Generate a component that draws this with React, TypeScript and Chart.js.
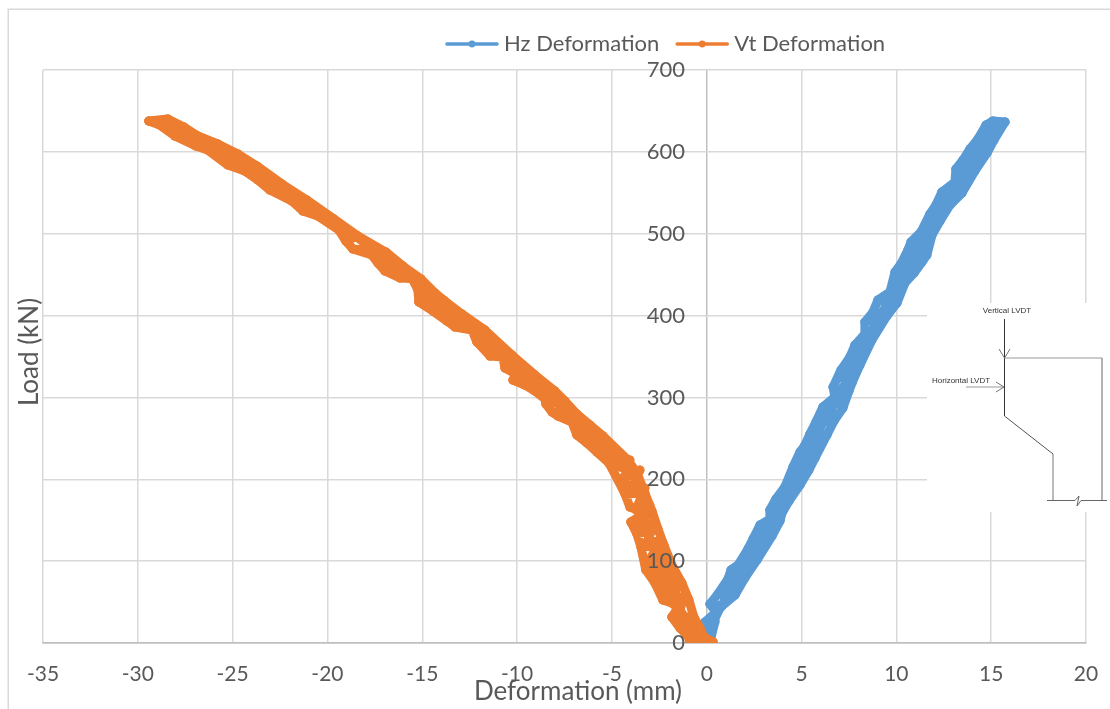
import React, { useEffect, useRef } from "react";
import { Chart, registerables } from "chart.js";

Chart.register(...registerables);

const FONT = "Lato";
const TEXT = "#595959";
const GRID = "#d9d9d9";
const AXIS = "#bfbfbf";
const BLUE = "#5b9bd5";
const ORANGE = "#ed7d31";

const seriesNames = ["Hz Deformation", "Vt Deformation"];
const xAxisTitle = "Deformation (mm)";
const yAxisTitle = "Load (kN)";
const insetVertical = "Vertical LVDT";
const insetHorizontal = "Horizontal LVDT";

// loading cycles of the horizontal LVDT
const hzDeformation = [0.22,-0.09,0.43,0.27,0.49,0.17,0.8,1.49,0.59,1.12,2.01,1.28,1.65,2.65,2.17,2.44,3.44,2.81,3.86,3.33,3.97,3.33,3.65,4.34,4.12,4.92,4.55,5.39,4.92,5.71,5.18,6.34,5.44,5.76,6.71,6.13,6.76,7.18,6.66,7.5,7.08,7.66,7.55,8.08,7.82,8.71,8.34,8.34,9.5,8.77,9.03,10.03,9.66,10.45,9.93,10.93,10.24,11.35,10.61,11.61,10.77,11.88,11.3,11.77,12.3,12.09,12.83,12.4,13.46,13.09,14.14,13.14,14.78,13.51,13.88,15.15,14.3,14.73,15.73,15.09];
const hzLoad = [6.1,25.7,25.7,13.4,37.9,47.6,45.2,58.6,59.9,78.2,79.4,89.2,95.3,101.4,114.8,127,130.7,144.1,149,151.5,158.8,162.5,175.9,173.5,190.6,193,215,211.3,233.3,226,241.9,254.1,255.3,270,271.2,288.3,300.5,287.1,312.7,307.8,333.5,317.6,349.4,339.6,364,370.1,377.5,392.1,399.5,404.3,419,415.3,428.8,439.8,453.2,452,463,465.4,480.1,474,489.9,498.4,502.1,524.1,515.5,535.1,535.1,550.9,549.7,563.2,576.6,579,598.6,590,603.5,614.5,615.7,632.8,636.5,637.7];
const hzLeftX = [15.09,14.73,14.3,13.88,13.51,13.14,13.09,12.4,12.09,11.77,11.3,10.77,10.61,10.24,9.93,9.66,9.03,8.77,8.34,8.34,7.82,7.55,7.08,6.66,6.76,6.13,5.76,5.44,5.18,4.92,4.55,4.12,3.65,3.33,3.33,2.81,2.44,2.17,1.65,1.28,1.12,0.59,0.17,0.49,-0.09,0.22];
const hzLeftY = [637.7,632.8,615.7,603.5,590,579,563.2,550.9,535.1,524.1,502.1,489.9,480.1,463,453.2,428.8,419,404.3,392.1,377.5,364,349.4,333.5,312.7,300.5,288.3,270,255.3,241.9,233.3,215,190.6,175.9,162.5,151.5,144.1,127,114.8,95.3,89.2,78.2,59.9,47.6,37.9,25.7,6.1];
const hzRightX = [0.22,0.43,0.49,0.8,1.49,2.01,2.65,3.44,3.86,3.97,4.34,4.92,5.39,5.71,6.34,6.71,7.18,7.5,7.66,8.08,8.71,9.5,10.03,10.45,10.93,11.35,11.61,11.88,12.3,12.83,13.46,14.14,14.78,15.15,15.73];
const hzRightY = [6.1,25.7,37.9,45.2,58.6,79.4,101.4,130.7,149,158.8,173.5,193,211.3,226,254.1,271.2,287.1,307.8,317.6,339.6,370.1,399.5,415.3,439.8,452,465.4,474,498.4,515.5,535.1,549.7,576.6,598.6,614.5,636.5];
const hzMiddleX = [15.36,14.83,14.3,13.78,13.25,12.72,12.19,11.77,11.3,10.82,10.35,9.82,9.4,8.87,8.34,7.87,7.45,7.03,6.6,6.13,5.71,5.18,4.76,4.39,3.97,3.76,3.33,2.91,2.38,2.01,1.59,1.12,0.7,0.27];
const hzMiddleY = [636.5,620.6,602.3,583.9,561.9,543.6,529,507,486.2,470.3,449.6,428.8,409.2,388.5,364,345.7,323.7,305.4,287.1,270,248,223.6,205.2,186.9,168.6,156.4,140.5,125.8,107.5,91.6,77,58.6,42.8,22];

// loading cycles of the vertical LVDT
const vtDeformation = [-29.42,-28.42,-28.84,-27.57,-28.05,-26.83,-26.94,-25.78,-26.31,-24.72,-25.25,-23.72,-24.36,-22.4,-23.67,-23.04,-21.09,-21.88,-21.3,-19.66,-20.51,-19.4,-18.4,-19.03,-18.66,-16.92,-17.66,-17.34,-16.02,-16.97,-16.18,-15.07,-15.55,-15.23,-14.33,-15.18,-14.44,-13.81,-12.91,-13.7,-13.28,-12.38,-11.7,-12.12,-11.17,-10.27,-11.43,-10.75,-10.64,-9.06,-10.06,-10.22,-9.59,-8.01,-9.06,-8.53,-7.48,-8.48,-8.16,-6.85,-7.85,-7.11,-6.16,-6.85,-5.47,-6.32,-5.79,-4.16,-5.16,-3.68,-4.68,-3.26,-4.31,-4.05,-2.89,-3.26,-4,-2.57,-3.68,-3.47,-2.26,-3.21,-1.84,-2.73,-1.31,-2.31,-0.94,-1.84,-1.52,-1.84,-0.68,-1.41,-0.36,-0.99,-0.15,-0.89,0.33];
const vtLoad = [637.7,640.1,632.8,630.3,619.4,619.4,607.1,609.6,602.2,597.4,583.9,582.7,576.6,560.7,565.6,553.4,541.2,540,527.7,518,521.6,504.5,497.2,491.1,481.3,477.6,474,464.2,460.5,454.4,445.9,444.7,445.9,431.2,427.6,416.6,405.6,417.8,401.9,393.4,386,382.4,382.4,367.7,365.3,351.8,350.6,349.4,335.9,327.4,328.6,321.3,315.2,307.8,307.8,298.1,295.6,292,282.2,279.7,277.3,270,266.3,254.1,252.9,244.3,233.3,223.6,219.9,207.7,199.1,183.2,182,166.1,161.3,158.8,147.8,139.3,133.2,117.3,119.7,89.2,95.3,73.3,73.3,52.5,52.5,48.9,42.8,31.8,31.8,18.3,18.3,8.6,7.3,1.2,1.2];
const vtUpperX = [0.33,-0.15,-0.36,-0.68,-0.94,-1.31,-1.84,-2.26,-2.57,-2.89,-3.26,-3.68,-4.16,-5.47,-6.16,-6.85,-7.48,-8.01,-9.06,-10.27,-11.7,-12.91,-13.81,-14.33,-15.07,-16.02,-16.92,-18.4,-19.66,-21.09,-22.4,-23.72,-24.72,-25.78,-26.83,-27.57,-28.42,-29.42];
const vtUpperY = [1.2,7.3,18.3,31.8,52.5,73.3,95.3,119.7,139.3,161.3,183.2,207.7,223.6,252.9,266.3,279.7,295.6,307.8,327.4,351.8,382.4,401.9,417.8,427.6,444.7,460.5,477.6,497.2,518,541.2,560.7,582.7,597.4,609.6,619.4,630.3,640.1,637.7];
const vtLowerX = [-29.42,-28.84,-28.05,-26.94,-26.31,-25.25,-24.36,-23.67,-23.04,-21.88,-21.3,-20.51,-19.4,-19.03,-18.66,-17.66,-17.34,-16.97,-16.18,-15.55,-15.23,-15.18,-14.44,-13.7,-13.28,-12.38,-12.12,-11.43,-10.75,-10.64,-10.06,-10.22,-9.59,-9.06,-8.53,-8.48,-8.16,-7.85,-7.11,-6.85,-6.32,-5.79,-5.16,-4.68,-4.31,-4.05,-3.26,-4,-3.68,-3.47,-3.21,-2.73,-2.31,-1.84,-1.52,-1.84,-1.41,-0.99,-0.89,0.33];
const vtLowerY = [637.7,632.8,619.4,607.1,602.2,583.9,576.6,565.6,553.4,540,527.7,521.6,504.5,491.1,481.3,474,464.2,454.4,445.9,445.9,431.2,416.6,405.6,393.4,386,382.4,367.7,350.6,349.4,335.9,328.6,321.3,315.2,307.8,298.1,292,282.2,277.3,270,254.1,244.3,233.3,219.9,199.1,182,166.1,158.8,147.8,133.2,117.3,89.2,73.3,52.5,48.9,42.8,31.8,18.3,8.6,1.2,1.2];
const vtMiddleX = [-0.46,-0.89,-1.41,-1.2,-1.84,-1.52,-2.26,-1.84,-2.73,-2.15,-3,-2.47,-3.21,-2.73,-3.42,-3,-3.73,-3.26,-4.05,-3.52,-4.31,-4.05,-4.68,-5.11,-5.9,-6.69,-7.48,-8.27,-9.32,-10.38,-11.17,-12.07,-13.02,-13.81,-14.49,-15.13,-15.92,-16.97,-18.03,-19.08,-20.14,-21.19,-22.25,-23.3,-24.09,-25.15,-26.2,-27.26,-28.05,-29.1];
const vtMiddleY = [6.1,22,40.3,57.4,52.5,70.9,64.7,86.7,83.1,106.3,101.4,125.8,119.7,147.8,140.5,168.6,162.5,189.3,183.2,211.3,205.2,223.6,217.4,233.3,248,266.3,284.6,303,321.3,339.6,357.9,376.3,392.1,404.3,419,437.3,453.2,470.3,488.6,507,522.8,537.5,553.4,568,581.5,596.1,608.4,620.6,631.6,637.7];

const toPoints = (xs: number[], ys: number[]) => xs.map((x, i) => ({ x, y: ys[i] }));

const decorations = {
  id: "decorations",
  beforeDraw(chart: any) {
    const { ctx, width, height, legend } = chart;
    const shift = 445 - legend.legendHitBoxes[0].left;
    legend.left += shift;
    legend.right += shift;
    legend.top = 17;
    legend.bottom = 66;
    legend.legendHitBoxes.forEach((b: any) => {
      b.left += shift;
    });
    ctx.save();
    ctx.fillStyle = "#fff";
    ctx.fillRect(0, 0, width, height);
    ctx.strokeStyle = GRID;
    ctx.lineWidth = 1.5;
    ctx.strokeRect(8.25, 9.25, width + 20, height + 20);
    ctx.restore();
  },
  afterDraw(chart: any) {
    const { ctx } = chart;
    ctx.save();
    // legend keys: a line with a marker
    chart.legend.legendHitBoxes.forEach((b: any, i: number) => {
      const c = i === 0 ? BLUE : ORANGE;
      ctx.strokeStyle = c;
      ctx.fillStyle = c;
      ctx.lineWidth = 3.6;
      ctx.lineCap = "round";
      ctx.beginPath();
      ctx.moveTo(b.left + 2, 44);
      ctx.lineTo(b.left + 52, 44);
      ctx.stroke();
      ctx.beginPath();
      ctx.arc(b.left + 27, 44, 3.4, 0, Math.PI * 2);
      ctx.fill();
    });
    // axis titles
    ctx.fillStyle = TEXT;
    ctx.font = `26px ${FONT}`;
    ctx.textAlign = "center";
    ctx.textBaseline = "middle";
    ctx.fillText(xAxisTitle, 578, 692);
    ctx.translate(30, 352);
    ctx.rotate(-Math.PI / 2);
    ctx.fillText(yAxisTitle, 0, 0);
    ctx.restore();

    // inset sketch of the test set-up
    ctx.save();
    ctx.fillStyle = "#fff";
    ctx.fillRect(927, 303, 170, 209);
    const path = (pts: number[][], color: string, w = 1) => {
      ctx.strokeStyle = color;
      ctx.lineWidth = w;
      ctx.beginPath();
      pts.forEach((p, i) => (i ? ctx.lineTo(p[0], p[1]) : ctx.moveTo(p[0], p[1])));
      ctx.stroke();
    };
    path([[1004.5, 319], [1004.5, 416]], "#333");
    path([[1004.5, 416], [1053, 454]], "#555");
    path([[1053, 454], [1053, 500]], "#777");
    path([[1004.5, 358], [1102, 358]], "#999");
    path([[1102, 358], [1102, 500]], "#666");
    path([[1047, 500.5], [1075, 500.5], [1079, 496], [1077, 506], [1081, 500.5], [1107, 500.5]], "#666");
    path([[999, 349], [1004.5, 358], [1010, 349]], "#777");
    path([[966, 387], [1004, 387]], "#999");
    path([[996, 382], [1004, 387], [996, 392]], "#777");
    ctx.fillStyle = "#333";
    ctx.font = "8px 'Liberation Sans'";
    ctx.textBaseline = "middle";
    ctx.textAlign = "center";
    ctx.fillText(insetVertical, 1007, 311);
    ctx.textAlign = "left";
    ctx.fillText(insetHorizontal, 932, 381);
    ctx.restore();
  },
};

const lineStyle = (color: string) => ({
  showLine: true,
  borderColor: color,
  backgroundColor: color,
  borderWidth: 9,
  pointRadius: 4.5,
  pointBorderWidth: 0,
  borderCapStyle: "round",
  borderJoinStyle: "round",
});

export default function App() {
  const ref = useRef<HTMLCanvasElement>(null);
  useEffect(() => {
    const chart = new Chart(ref.current!, {
      type: "scatter",
      data: {
        datasets: [
          {
            label: seriesNames[0],
            data: [
              ...toPoints(hzDeformation, hzLoad),
              ...toPoints(hzLeftX, hzLeftY),
              ...toPoints(hzRightX, hzRightY),
              ...toPoints(hzMiddleX, hzMiddleY),
            ],
            ...lineStyle(BLUE),
            order: 2,
          },
          {
            label: seriesNames[1],
            data: [
              ...toPoints(vtDeformation, vtLoad),
              ...toPoints(vtUpperX, vtUpperY),
              ...toPoints(vtLowerX, vtLowerY),
              ...toPoints(vtMiddleX, vtMiddleY),
            ],
            ...lineStyle(ORANGE),
            order: 1,
          },
        ],
      },
      options: {
        animation: false,
        responsive: false,
        layout: { padding: { left: 43, right: 24, top: 22, bottom: 0 } },
        plugins: {
          tooltip: { enabled: false },
          title: { display: false },
          legend: {
            display: true,
            position: "top",
            labels: {
              boxWidth: 48,
              boxHeight: 4,
              padding: 16,
              color: TEXT,
              font: { family: FONT, size: 22 },
              generateLabels: (c: any) =>
                c.data.datasets.map((d: any, i: number) => ({
                  text: d.label,
                  fillStyle: "rgba(0,0,0,0)",
                  strokeStyle: "rgba(0,0,0,0)",
                  lineWidth: 0,
                  datasetIndex: i,
                  fontColor: TEXT,
                })),
            },
          },
        },
        scales: {
          x: {
            type: "linear",
            min: -35,
            max: 20,
            position: "bottom",
            afterFit: (s: any) => {
              s.height = 66;
              s.paddingLeft = 0;
              s.paddingRight = 0;
            },
            grid: {
              color: (c: any) => (c.tick && c.tick.value === 0 ? AXIS : GRID),
              lineWidth: 1.5,
              drawTicks: false,
            },
            border: { display: true, color: AXIS, width: 1.5 },
            ticks: {
              stepSize: 5,
              padding: 19,
              color: TEXT,
              maxRotation: 0,
              font: { family: FONT, size: 21 },
            },
          },
          y: {
            type: "linear",
            min: 0,
            max: 700,
            position: { x: -1.15 } as any,
            grid: {
              color: (c: any) => (c.tick && c.tick.value === 0 ? AXIS : GRID),
              lineWidth: 1.5,
              drawTicks: false,
            },
            border: { display: false },
            ticks: {
              stepSize: 100,
              color: TEXT,
              z: 1,
              font: { family: FONT, size: 22 },
            },
          },
        },
      },
      plugins: [decorations],
    } as any);
    return () => chart.destroy();
  }, []);
  return (
    <canvas
      ref={ref}
      width={1110}
      height={709}
      style={{ position: "fixed", left: 0, top: 0, display: "block" }}
    />
  );
}
